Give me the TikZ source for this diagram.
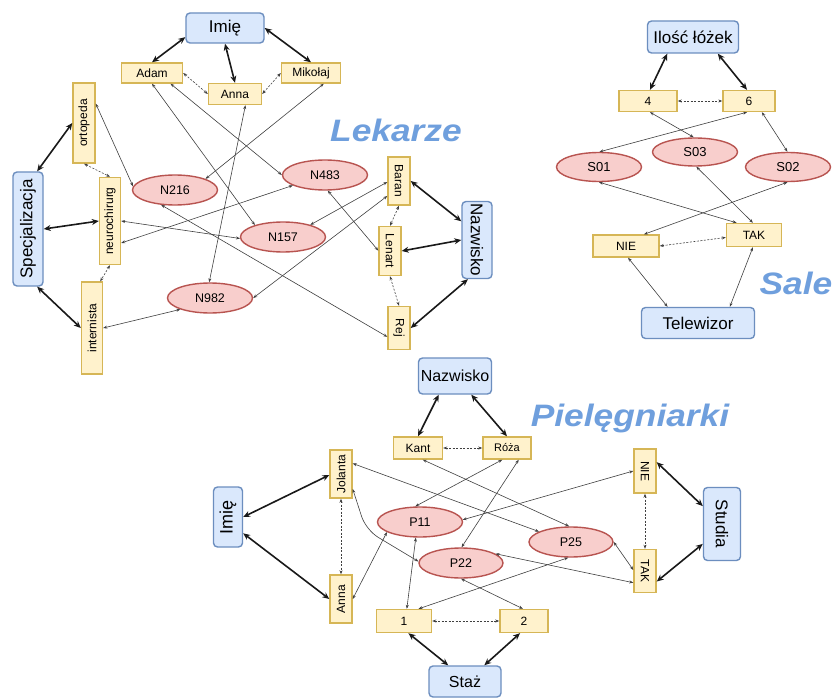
\documentclass[tikz,border=0pt]{standalone}
\usepackage{fontspec}
\usepackage{graphicx}
\setmainfont{Liberation Sans}
\usetikzlibrary{shapes.geometric,arrows.meta}
\definecolor{bfill}{HTML}{DAE8FC}
\definecolor{bdraw}{HTML}{6C8EBF}
\definecolor{yfill}{HTML}{FFF2CC}
\definecolor{ydraw}{HTML}{D6B656}
\definecolor{rfill}{HTML}{F8CECC}
\definecolor{rdraw}{HTML}{B85450}
\definecolor{tblue}{HTML}{6F9FDD}
\tikzset{
  bbox/.style={draw=bdraw, fill=bfill, rounded corners=4pt, line width=1.4pt, inner sep=0pt, font=\fontsize{17}{17}\selectfont},
  ybox/.style={draw=ydraw, fill=yfill, line width=1.4pt, inner sep=0pt, font=\fontsize{12}{12}\selectfont},
  ell/.style={ellipse, draw=rdraw, fill=rfill, line width=1.4pt, inner sep=0pt, minimum width=85pt, minimum height=30pt, font=\fontsize{12.5}{12.5}\selectfont},
  thk/.style={{Stealth[length=7pt,width=6pt]}-{Stealth[length=7pt,width=6pt]}, line width=1.6pt, draw=black!90},
  thn/.style={{Stealth[length=4pt,width=3pt]}-{Stealth[length=4pt,width=3pt]}, line width=0.6pt, draw=black!75},
  dsh/.style={thn, dash pattern=on 2pt off 1.5pt},
  ttl/.style={font=\fontsize{31}{31}\selectfont\bfseries\itshape, text=tblue, inner sep=0pt}
}
\begin{document}
\begin{tikzpicture}[x=1pt,y=-1pt]
\useasboundingbox (0,0) rectangle (833,698);
\fill[white] (0,0) rectangle (833,698);

% ---------------- Lekarze ----------------
\node[bbox, minimum width=78pt, minimum height=30pt] (Imie1) at (225,28) {Imię};
\node[ybox, minimum width=61pt, minimum height=20pt] (Adam) at (152,73) {Adam};
\node[ybox, minimum width=53pt, minimum height=21pt] (Anna1) at (235,94) {Anna};
\node[ybox, minimum width=59pt, minimum height=20pt] (Mikolaj) at (311,73) {Mikołaj};
\node[ybox, minimum width=22pt, minimum height=80pt] (ortopeda) at (84,123) {\rotatebox{90}{ortopeda}};
\node[ybox, minimum width=21pt, minimum height=87pt] (neuro) at (110,221) {\rotatebox{90}{neurochirurg}};
\node[ybox, minimum width=21pt, minimum height=92pt] (internista) at (92,328) {\rotatebox{90}{internista}};
\node[bbox, minimum width=30pt, minimum height=114pt] (Spec) at (28,229) {\rotatebox{90}{Specjalizacja}};
\node[ell] (N216) at (175,190) {N216};
\node[ell] (N483) at (325,175) {N483};
\node[ell] (N157) at (283,237) {N157};
\node[ell] (N982) at (210,298) {N982};
\node[ybox, minimum width=22pt, minimum height=48pt] (Baran) at (399,181) {\rotatebox{-90}{Baran}};
\node[ybox, minimum width=22pt, minimum height=49pt] (Lenart) at (390,251) {\rotatebox{-90}{Lenart}};
\node[ybox, minimum width=22pt, minimum height=43pt] (Rej) at (399,328) {\rotatebox{-90}{Rej}};
\node[bbox, minimum width=30pt, minimum height=77pt] (Nazw1) at (477,240) {\rotatebox{-90}{Nazwisko}};
\node[ttl] (LLek) at (396,130) {\scalebox{1.14}[1]{Lekarze}};

\draw[thk] (Imie1.193) -- (Adam.north);
\draw[thk] (Imie1.south) -- (Anna1.north);
\draw[thk] (Imie1.east) -- (Mikolaj.north);
\draw[thk] (Spec.81) -- (ortopeda.west);
\draw[thk] (Spec.east) -- (neuro.west);
\draw[thk] (Spec.-81) -- (internista.west);
\draw[thk] (Baran.east) -- (Nazw1.130);
\draw[thk] (Lenart.east) -- (Nazw1.west);
\draw[thk] (Rej.east) -- (Nazw1.-103);

\draw[dsh] (Adam.east) -- (Anna1.west);
\draw[dsh] (Anna1.east) -- (Mikolaj.west);
\draw[dsh] (ortopeda.south) -- (neuro.north);
\draw[dsh] (neuro.south) -- (internista.80);
\draw[dsh] (Baran.south) -- (Lenart.north);
\draw[dsh] (Lenart.south) -- (Rej.north);

\draw[thn] (ortopeda.59) -- (N216.175);
\draw[thn] (Mikolaj.-40) -- (N216.20);
\draw[thn] (N216.-133) -- (Rej.217);
\draw[thn] (Adam.south) -- (N157.157);
\draw[thn] (Adam.-30) -- (N483.west);
\draw[thn] (Anna1.-47) -- (N982.93);
\draw[thn] (neuro.east) -- (N157.182);
\draw[thn] (neuro.-63) -- (N483.198);
\draw[thn] (N483.-80) -- (Lenart.178);
\draw[thn] (N157.24) -- (Baran.185);
\draw[thn] (N982.east) -- (Baran.232);
\draw[thn] (internista.east) -- (N982.201);

% ---------------- Sale ----------------
\node[bbox, minimum width=91pt, minimum height=32pt] (Ilosc) at (693,37) {Ilość łóżek};
\node[ybox, minimum width=58pt, minimum height=21pt] (S4) at (648,101) {4};
\node[ybox, minimum width=52pt, minimum height=21pt] (S6) at (749,101) {6};
\node[ell, minimum height=28pt, font=\fontsize{13}{13}\selectfont] (S03) at (695,152) {S03};
\node[ell, minimum height=29pt, font=\fontsize{13}{13}\selectfont] (S01) at (599,167) {S01};
\node[ell, minimum height=29pt, font=\fontsize{13}{13}\selectfont] (S02) at (788,167) {S02};
\node[ybox, minimum width=66pt, minimum height=22pt] (NIE1) at (626,246) {NIE};
\node[ybox, minimum width=55pt, minimum height=23pt] (TAK1) at (754,235) {TAK};
\node[bbox, minimum width=113pt, minimum height=31pt] (Tele) at (698,323) {Telewizor};
\node[ttl] (LSale) at (796,283) {\scalebox{1.14}[1]{Sale}};

\draw[thk] (Ilosc.213) -- (S4.80);
\draw[thk] (Ilosc.-34) -- (S6.100);
\draw[dsh] (S4.east) -- (S6.west);
\draw[thn] (S4.-80) -- (S03.95);
\draw[thn] (S6.-100) -- (S01.88);
\draw[thn] (S6.-41) -- (S02.92);
\draw[thn] (S01.south) -- (TAK1.145);
\draw[thn] (S03.-85) -- (TAK1.95);
\draw[thn] (S02.-92) -- (NIE1.33);
\draw[dsh] (NIE1.east) -- (TAK1.185);
\draw[thn] (NIE1.-80) -- (Tele.152);
\draw[thn] (TAK1.-95) -- (Tele.27);

% ---------------- Pielegniarki ----------------
\node[bbox, minimum width=73pt, minimum height=36pt, font=\fontsize{16}{16}\selectfont] (Nazw2) at (455,376) {Nazwisko};
\node[ybox, minimum width=49pt, minimum height=22pt] (Kant) at (418,448) {Kant};
\node[ybox, minimum width=48pt, minimum height=22pt, font=\fontsize{11}{11}\selectfont] (Roza) at (507,448) {Róża};
\node[ybox, minimum width=22pt, minimum height=48pt] (Jolanta) at (341,474) {\rotatebox{90}{Jolanta}};
\node[bbox, minimum width=29pt, minimum height=60pt, font=\fontsize{18}{18}\selectfont] (Imie2) at (228,517) {\rotatebox{90}{Imię}};
\node[ell] (P11) at (420,522) {P11};
\node[ell, minimum width=84pt] (P22) at (461,563) {P22};
\node[ell, minimum width=84pt] (P25) at (571,542) {P25};
\node[ybox, minimum width=22pt, minimum height=44pt] (NIE2) at (645,471) {\rotatebox{-90}{NIE}};
\node[ybox, minimum width=22pt, minimum height=43pt] (TAK2) at (645,571) {\rotatebox{-90}{TAK}};
\node[bbox, minimum width=37pt, minimum height=73pt] (Studia) at (722,524) {\rotatebox{-90}{Studia}};
\node[ybox, minimum width=22pt, minimum height=48pt] (Anna2) at (341,599) {\rotatebox{90}{Anna}};
\node[ybox, minimum width=55pt, minimum height=23pt] (One) at (404,621) {1};
\node[ybox, minimum width=48pt, minimum height=23pt] (Two) at (524,621) {2};
\node[bbox, minimum width=72pt, minimum height=31pt, font=\fontsize{16}{16}\selectfont] (Staz) at (465,681.5) {Staż};
\node[ttl] (LPiel) at (630,418) {\scalebox{1.14}[1]{Pielęgniarki}};
\coordinate (bendJ) at (366,530);

\draw[thk] (Nazw2.-131) -- (Kant.north);
\draw[thk] (Nazw2.-49) -- (Roza.north);
\draw[thk] (Imie2.east) -- (Jolanta.185);
\draw[thk] (Imie2.-47) -- (Anna2.west);
\draw[thk] (NIE2.37) -- (Studia.137);
\draw[thk] (TAK2.-42) -- (Studia.226);
\draw[thk] (One.-70) -- (Staz.136);
\draw[thk] (Two.-108) -- (Staz.40);

\draw[dsh] (Kant.east) -- (Roza.west);
\draw[dsh] (Jolanta.south) -- (Anna2.north);
\draw[dsh] (NIE2.south) -- (TAK2.north);
\draw[dsh] (One.east) -- (Two.west);

\draw[thn] (Roza.-112) -- (P11.107);
\draw[thn] (Roza.-45) -- (P22.88);
\draw[thn] (Anna2.east) -- (P11.197);
\draw[thn] (NIE2.west) -- (P11.3);
\draw[thn] (One.77) -- (P11.-105);
\draw[thn, rounded corners=14pt] (Jolanta.-52) -- (bendJ) -- (P22.178);
\draw[thn] (Jolanta.42) -- (P25.162);
\draw[thn] (Kant.-68) -- (P25.97);
\draw[thn] (P25.east) -- (TAK2.175);
\draw[thn] (P22.15) -- (TAK2.225);
\draw[thn] (P22.south) -- (Two.95);
\draw[thn] (P25.-100) -- (One.40);
\end{tikzpicture}
\end{document}
